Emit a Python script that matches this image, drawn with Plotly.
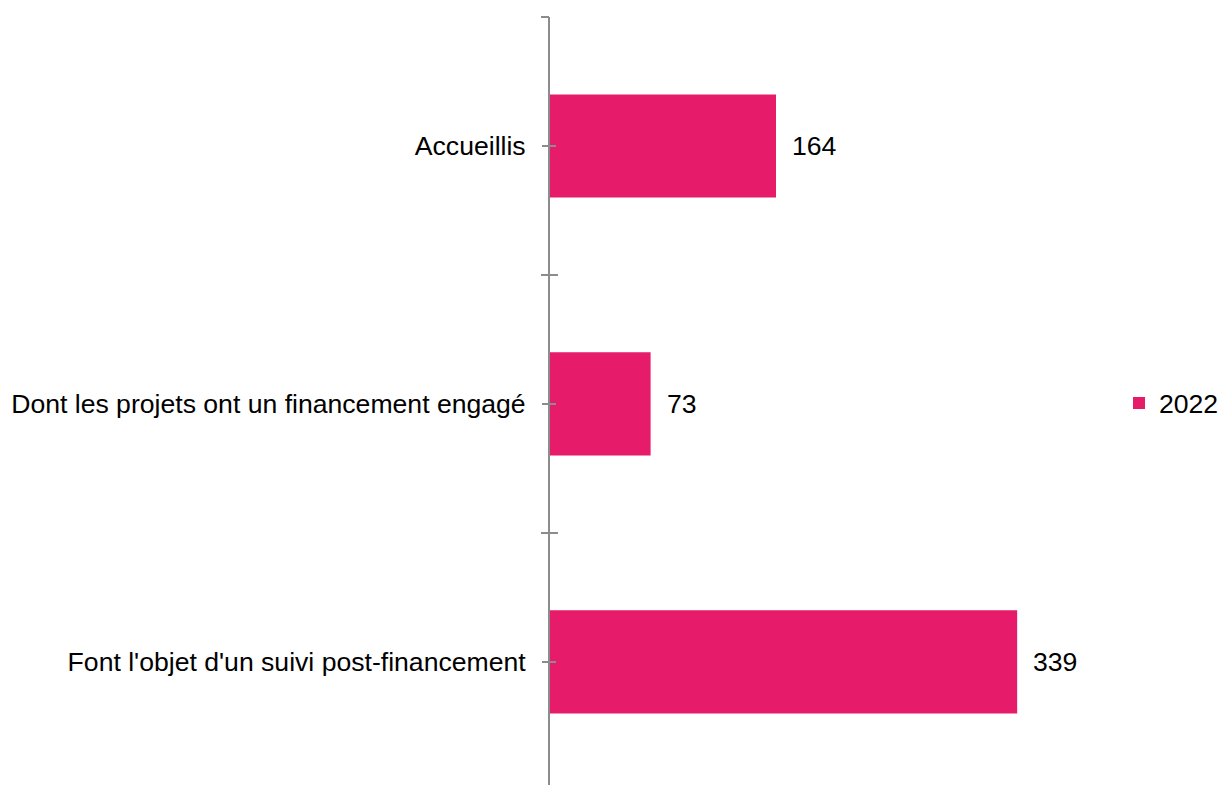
import plotly.graph_objects as go

categories = ["Accueillis", "Dont les projets ont un financement engagé", "Font l'objet d'un suivi post-financement"]
values_2022 = [164, 73, 339]
series_name = "2022"

BAR = "#E61B6A"
AX = "#8C8C8C"
FONT = "Liberation Sans, Arial, sans-serif"
FS = 26.6

fig = go.Figure()
fig.add_trace(go.Bar(
    y=categories, x=values_2022, orientation="h", name=series_name,
    marker=dict(color=BAR, line=dict(width=0)), width=0.4,
    hoverinfo="x+y",
))
# invisible helper traces for overlay axes (extra tick sets)
for ax in ["y2", "y3", "y4"]:
    fig.add_trace(go.Bar(y=categories, x=[None]*3, orientation="h", yaxis=ax,
                         showlegend=False, hoverinfo="skip"))

for c, v in zip(categories, values_2022):
    fig.add_annotation(x=v, y=c, text=str(v), showarrow=False, xanchor="left",
                       xshift=14, yshift=0, font=dict(size=FS, family=FONT, color="#000000"))

yr = [2.477, -0.5]
common = dict(type="category", categoryorder="array", categoryarray=categories,
              range=yr, showgrid=False, zeroline=False)
fig.update_layout(
    width=1224, height=785,
    margin=dict(l=550, r=0, t=17, b=0),
    paper_bgcolor="white", plot_bgcolor="white",
    font=dict(family=FONT, size=FS, color="#000000"),
    showlegend=True,
    legend=dict(x=1, xanchor="right", y=0.497, yanchor="middle",
                font=dict(size=FS, family=FONT, color="#000000"),
                itemwidth=30, bgcolor="rgba(0,0,0,0)", borderwidth=0),
    xaxis=dict(range=[0, 489.1], visible=False, fixedrange=True),
    yaxis=dict(**common, tickson="labels", ticks="outside", ticklen=6, tickwidth=2,
               tickcolor=AX, showline=True, linecolor=AX, linewidth=2,
               ticklabelstandoff=11,
               tickfont=dict(size=FS, family=FONT, color="#000000")),
    yaxis2=dict(**common, overlaying="y", side="left", tickson="boundaries",
                ticks="outside", ticklen=8, tickwidth=2, tickcolor=AX,
                showticklabels=False, showline=False),
    yaxis3=dict(**common, overlaying="y", side="left", tickson="boundaries",
                ticks="inside", ticklen=8, tickwidth=2, tickcolor=AX,
                showticklabels=False, showline=False),
    yaxis4=dict(**common, overlaying="y", side="left", tickson="labels",
                ticks="inside", ticklen=6, tickwidth=2, tickcolor=AX,
                showticklabels=False, showline=False),
)
fig.write_html("out.html", config={"displayModeBar": False},
               post_script="document.body.style.margin='0';document.body.style.overflow='hidden';")
